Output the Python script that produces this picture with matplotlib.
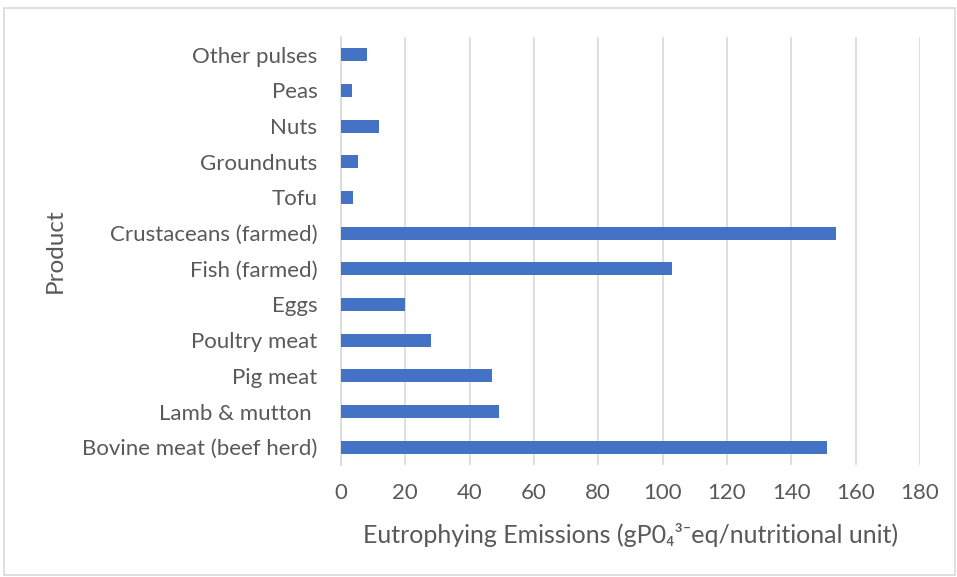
import matplotlib
matplotlib.use("Agg")
import matplotlib.pyplot as plt
from matplotlib.patches import Rectangle

products = [
    "Bovine meat (beef herd)", "Lamb & mutton ", "Pig meat", "Poultry meat",
    "Eggs", "Fish (farmed)", "Crustaceans (farmed)", "Tofu", "Groundnuts",
    "Nuts", "Peas", "Other pulses",
]
emissions = [151, 49, 47, 28, 20, 103, 154, 3.8, 5.4, 11.9, 3.3, 8.0]
x_ticks = [0, 20, 40, 60, 80, 100, 120, 140, 160, 180]

plt.rcParams["font.family"] = ["Lato", "DejaVu Sans"]
text_color = "#595959"
grid_color = "#d9d9d9"

fig = plt.figure(figsize=(9.57, 5.77), dpi=100)
ax = fig.add_axes([0.3563, 0.1941, 0.605, 0.7418])

ax.barh(range(len(products)), emissions, height=0.36, color="#4472C4", zorder=3)

ax.set_xlim(0, 180)
ax.set_ylim(-0.5, len(products) - 0.5)
ax.set_xticks(x_ticks)
ax.set_yticks(range(len(products)))
ax.set_yticklabels(products)
ax.xaxis.grid(True, color=grid_color, linewidth=1.2, zorder=0)
ax.tick_params(axis="both", length=0, labelsize=16, labelcolor=text_color)
ax.tick_params(axis="y", pad=17)
ax.tick_params(axis="x", pad=13)
for side in ("top", "right", "bottom"):
    ax.spines[side].set_visible(False)
ax.spines["left"].set_color(grid_color)
ax.spines["left"].set_linewidth(1.2)

ax.set_xlabel("Eutrophying Emissions (gP0\u2084\u00b3\u207beq/nutritional unit)",
              fontsize=18, color=text_color, labelpad=14)
ax.set_ylabel("Product", fontsize=17.5, color=text_color, labelpad=12)

fig.patches.append(Rectangle((4 / 957, 2 / 577), 951 / 957, 567 / 577,
                             transform=fig.transFigure, fill=False,
                             edgecolor=grid_color, linewidth=1.2))

fig.savefig("out.png", dpi=100)
